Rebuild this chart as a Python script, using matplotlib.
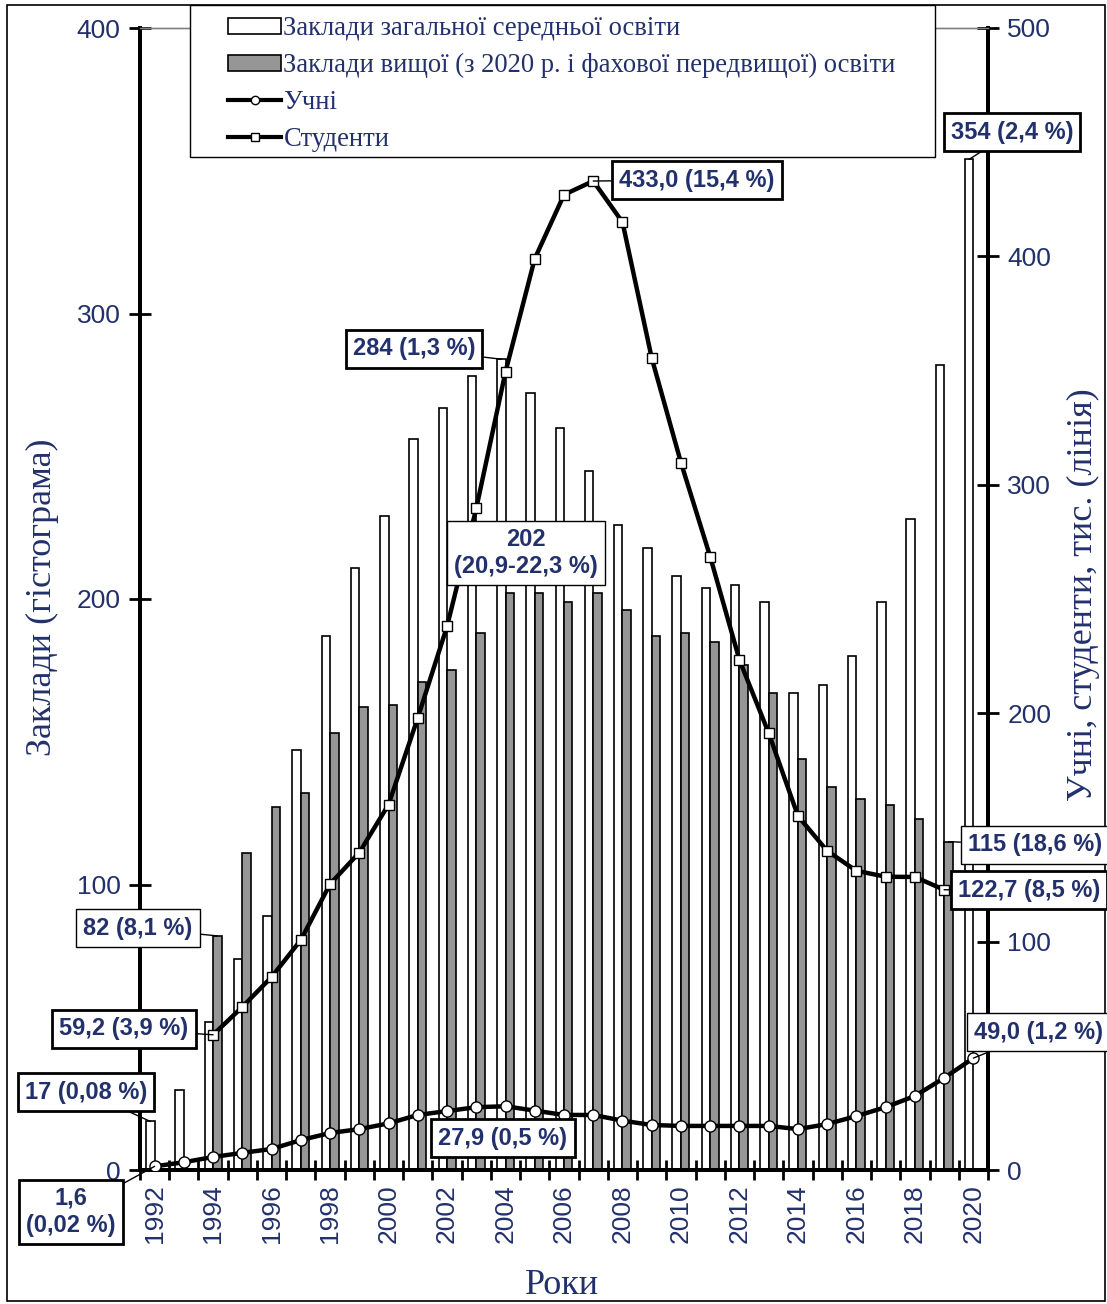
import numpy as np
import matplotlib
matplotlib.use("Agg")
import matplotlib.pyplot as plt
from matplotlib.patches import Rectangle, Patch
from matplotlib.lines import Line2D

# ---------------- data ----------------
years = list(range(1992, 2021))
secondary = [17, 28, 52, 74, 89, 147, 187, 211, 229, 256, 267, 278, 284, 272, 260, 245,
             226, 218, 208, 204, 205, 199, 167, 170, 180, 199, 228, 282, 354]
higher = [np.nan, np.nan, 82, 111, 127, 132, 153, 162, 163, 171, 175, 188, 202, 202, 199, 202,
          196, 187, 188, 185, 177, 167, 144, 134, 130, 128, 123, 115, np.nan]
pupils = [1.6, 3.4, 5.7, 7.5, 9.2, 13.1, 16.2, 17.9, 20.4, 24.1, 25.8, 27.5, 27.9, 26.0, 24.1, 24.1,
          21.6, 19.7, 19.3, 19.3, 19.3, 19.3, 17.9, 20.1, 23.6, 27.5, 32.4, 40.3, 49.0]
students = [np.nan, np.nan, 59.2, 71.4, 84.5, 100.7, 125.2, 139.0, 160.0, 198.0, 238.0, 289.7,
            349.5, 399.0, 427.0, 433.0, 415.0, 355.5, 309.7, 268.5, 223.3, 191.3, 155.0, 139.7,
            131.0, 128.4, 128.3, 122.7, np.nan]

legend_labels = ["Заклади загальної середньої освіти",
                 "Заклади вищої (з 2020 р. і фахової передвищої) освіти",
                 "Учні",
                 "Студенти"]

NAVY = "#22306B"
SERIF = "Liberation Serif"
SANS = "Liberation Sans"

W, H = 1107, 1304
fig = plt.figure(figsize=(W / 100, H / 100), dpi=100)

def fx(px):
    return px / W

def fy(py):
    return 1 - py / H

ax = fig.add_axes([fx(140), fy(1170), fx(988) - fx(140), fy(28) - fy(1170)])
ax2 = ax.twinx()

x = np.arange(len(years))
bw = 0.29
ax.bar(x - bw / 2, secondary, width=bw, color="white", edgecolor="black", linewidth=1.2, zorder=2)
ax.bar(x + bw / 2, higher, width=bw, color="#969696", edgecolor="black", linewidth=1.2, zorder=2)

ax2.plot(x, pupils, color="black", lw=3.2, marker="o", ms=8, mfc="white", mec="black", mew=1.0, zorder=4)
ax2.plot(x, students, color="black", lw=3.2, marker="s", ms=7.5, mfc="white", mec="black", mew=1.0, zorder=4)

ax.set_xlim(-0.5, len(years) - 0.5)
ax.set_ylim(0, 400)
ax2.set_ylim(0, 500)
ax.set_yticks([0, 100, 200, 300, 400])
ax2.set_yticks([0, 100, 200, 300, 400, 500])

ax.set_xticks(np.arange(-0.5, len(years), 1.0))
ax.set_xticklabels([])
ax.set_xticks(x[::2], minor=True)
ax.set_xticklabels([str(y) for y in years[::2]], minor=True, rotation=90,
                   fontsize=19, color=NAVY, family=SANS)
ax.tick_params(axis="x", which="major", direction="inout", length=14, width=2)
ax.tick_params(axis="x", which="minor", length=0, pad=10)

for a in (ax, ax2):
    a.tick_params(axis="y", direction="inout", length=16, width=2, labelsize=19,
                  labelcolor=NAVY, pad=6)
    for lab in a.get_yticklabels():
        lab.set_family(SANS)
    a.spines["top"].set_color("#808080")
    a.spines["top"].set_linewidth(1)
    a.spines["left"].set_linewidth(2.8)
    a.spines["right"].set_linewidth(2.8)
    a.spines["bottom"].set_linewidth(2.8)
ax.patch.set_visible(False)
ax2.set_zorder(ax.get_zorder() + 1)
ax2.patch.set_visible(False)

fig.text(fx(42), fy(597), "Заклади (гістограма)", rotation=90, ha="center", va="center",
         fontsize=26, color=NAVY, family=SERIF)
fig.text(fx(1083), fy(595), "Учні, студенти, тис. (лінія)", rotation=90, ha="center", va="center",
         fontsize=26, color=NAVY, family=SERIF)
fig.text(fx(562), fy(1285), "Роки", ha="center", va="center", fontsize=26, color=NAVY, family=SERIF)

# ---------------- legend ----------------
fig.patches.append(Rectangle((fx(190), fy(157)), fx(935) - fx(190), fy(5) - fy(157),
                             transform=fig.transFigure, fc="white", ec="black", lw=1, zorder=5))
handles = [Patch(facecolor="white", edgecolor="black", linewidth=1.2),
           Patch(facecolor="#969696", edgecolor="black", linewidth=1.2),
           Line2D([], [], color="black", lw=3, marker="o", ms=6, mfc="white", mec="black"),
           Line2D([], [], color="black", lw=3, marker="s", ms=6, mfc="white", mec="black")]
leg = fig.legend(handles, legend_labels, loc="upper left",
                 bbox_to_anchor=(fx(228), fy(16)),
                 prop={"family": SERIF, "size": 19.2}, labelcolor=NAVY, frameon=False,
                 handlelength=2.0, handleheight=0.55, handletextpad=0.08, labelspacing=0.45,
                 borderpad=0, borderaxespad=0)
leg.set_zorder(10)

# ---------------- annotations ----------------
i = years.index
ann = [
    ("354 (2,4 %)", (i(2020) - bw / 2, secondary[i(2020)] * 500 / 400), (1012, 132), 2.0),
    ("433,0 (15,4 %)", (i(2007), students[i(2007)]), (697, 180), 2.0),
    ("284 (1,3 %)", (i(2004) - bw / 2, secondary[i(2004)] * 500 / 400), (414, 349), 2.0),
    ("202\n(20,9-22,3 %)", None, (526, 553), 1.0),
    ("82 (8,1 %)", (i(1994) + bw / 2, higher[i(1994)] * 500 / 400), (138, 928), 1.0),
    ("59,2 (3,9 %)", (i(1994), students[i(1994)]), (124, 1029), 2.0),
    ("17 (0,08 %)", (i(1992) - bw / 2, secondary[i(1992)] * 500 / 400), (86, 1092), 2.0),
    ("1,6\n(0,02 %)", (i(1992), pupils[i(1992)]), (71, 1212), 2.0),
    ("27,9 (0,5 %)", None, (503, 1138), 2.0),
    ("115 (18,6 %)", (i(2019) + bw / 2, higher[i(2019)] * 500 / 400), (1035, 845), 1.0),
    ("122,7 (8,5 %)", (i(2019), students[i(2019)]), (1029, 890), 2.0),
    ("49,0 (1,2 %)", (i(2020), pupils[i(2020)]), (1039, 1032), 1.0),
]
for text, xy, (tx, ty), lw in ann:
    bbox = dict(boxstyle="square,pad=0.3", fc="white", ec="black", lw=lw)
    kw = dict(fontsize=17, fontweight="bold", color=NAVY, family=SANS, ha="center", va="center",
              linespacing=1.25, bbox=bbox, zorder=12)
    if xy is None:
        fig.text(tx / W, 1 - ty / H, text, **kw)
    else:
        ax2.annotate(text, xy=xy, xycoords="data", xytext=(tx, H - ty), textcoords="figure pixels",
                     arrowprops=dict(arrowstyle="-", color="black", lw=1, shrinkA=0, shrinkB=0),
                     annotation_clip=False, **kw)

# figure frame
fig.patches.append(Rectangle((fx(7), fy(1301)), fx(1105) - fx(7), fy(5) - fy(1301),
                             transform=fig.transFigure, fill=False, ec="black", lw=1.2, zorder=0))

fig.savefig("out.png", dpi=100, facecolor="white")
